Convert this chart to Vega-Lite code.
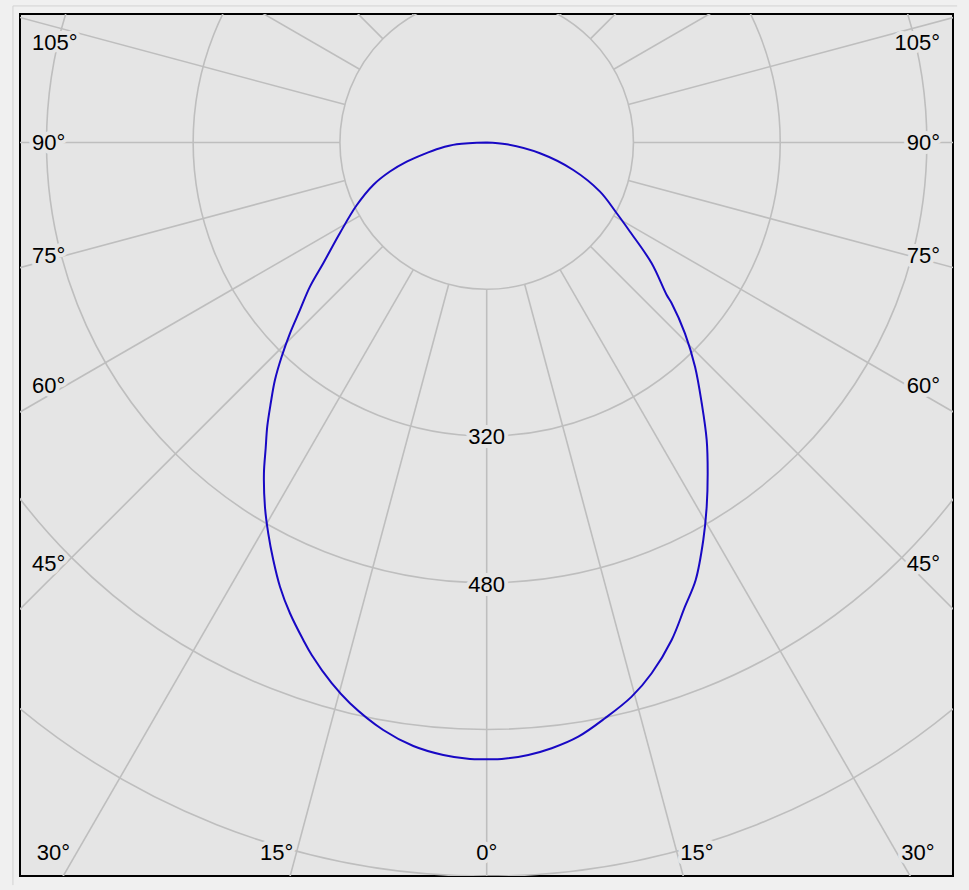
{
  "$schema": "https://vega.github.io/schema/vega-lite/v6.json",
  "width": 933,
  "height": 862,
  "autosize": {"type": "none"},
  "padding": {"left": 20, "top": 14, "right": 16, "bottom": 14},
  "background": "#f0f0f0",
  "config": {
    "view": {"fill": "#e5e5e5", "stroke": "#000000", "strokeWidth": 2},
    "axis": {"disable": true}
  },
  "datasets": {
    "spokes": [
      {"a": 0, "x1": 0, "y1": -160, "x2": 0, "y2": -1100},
      {"a": 15, "x1": -41.4, "y1": -154.5, "x2": -284.7, "y2": -1062.5},
      {"a": 15, "x1": 41.4, "y1": -154.5, "x2": 284.7, "y2": -1062.5},
      {"a": 30, "x1": -80, "y1": -138.6, "x2": -550, "y2": -952.6},
      {"a": 30, "x1": 80, "y1": -138.6, "x2": 550, "y2": -952.6},
      {"a": 45, "x1": -113.1, "y1": -113.1, "x2": -777.8, "y2": -777.8},
      {"a": 45, "x1": 113.1, "y1": -113.1, "x2": 777.8, "y2": -777.8},
      {"a": 60, "x1": -138.6, "y1": -80, "x2": -952.6, "y2": -550},
      {"a": 60, "x1": 138.6, "y1": -80, "x2": 952.6, "y2": -550},
      {"a": 75, "x1": -154.5, "y1": -41.4, "x2": -1062.5, "y2": -284.7},
      {"a": 75, "x1": 154.5, "y1": -41.4, "x2": 1062.5, "y2": -284.7},
      {"a": 90, "x1": -160, "y1": 0, "x2": -1100, "y2": 0},
      {"a": 90, "x1": 160, "y1": 0, "x2": 1100, "y2": 0},
      {"a": 105, "x1": -154.5, "y1": 41.4, "x2": -1062.5, "y2": 284.7},
      {"a": 105, "x1": 154.5, "y1": 41.4, "x2": 1062.5, "y2": 284.7},
      {"a": 120, "x1": -138.6, "y1": 80, "x2": -952.6, "y2": 550},
      {"a": 120, "x1": 138.6, "y1": 80, "x2": 952.6, "y2": 550},
      {"a": 135, "x1": -113.1, "y1": 113.1, "x2": -777.8, "y2": 777.8},
      {"a": 135, "x1": 113.1, "y1": 113.1, "x2": 777.8, "y2": 777.8},
      {"a": 150, "x1": -80, "y1": 138.6, "x2": -550, "y2": 952.6},
      {"a": 150, "x1": 80, "y1": 138.6, "x2": 550, "y2": 952.6},
      {"a": 165, "x1": -41.4, "y1": 154.5, "x2": -284.7, "y2": 1062.5},
      {"a": 165, "x1": 41.4, "y1": 154.5, "x2": 284.7, "y2": 1062.5},
      {"a": 180, "x1": 0, "y1": 160, "x2": 0, "y2": 1100}
    ],
    "rings": [
      {"r": 160}, {"r": 320}, {"r": 480}, {"r": 640}, {"r": 800}
    ],
    "panel": [
      {"x1": -516.6, "y1": 149.0, "x2": 513.0, "y2": 149.0},
      {"x1": -516.6, "y1": 149.0, "x2": -516.6, "y2": -809.7}
    ],
    "labels": [
      {"side": "L", "text": "105°", "x": -495.9, "y": 108.9},
      {"side": "L", "text": "90°", "x": -495.9, "y": 0},
      {"side": "L", "text": "75°", "x": -495.9, "y": -123.3},
      {"side": "L", "text": "60°", "x": -495.9, "y": -266.0},
      {"side": "L", "text": "45°", "x": -495.9, "y": -459.9},
      {"side": "R", "text": "105°", "x": 494.3, "y": 108.9},
      {"side": "R", "text": "90°", "x": 494.3, "y": 0},
      {"side": "R", "text": "75°", "x": 494.3, "y": -123.3},
      {"side": "R", "text": "60°", "x": 494.3, "y": -266.0},
      {"side": "R", "text": "45°", "x": 494.3, "y": -459.9},
      {"side": "C", "text": "30°", "x": -472.4, "y": -774.7},
      {"side": "C", "text": "15°", "x": -229.0, "y": -774.7},
      {"side": "C", "text": "0°", "x": 0, "y": -774.7},
      {"side": "C", "text": "15°", "x": 229.3, "y": -774.7},
      {"side": "C", "text": "30°", "x": 470.3, "y": -774.7},
      {"side": "C", "text": "320", "x": 0, "y": -321},
      {"side": "C", "text": "480", "x": 0, "y": -482}
    ],
    "curve": [
      {"i": 0, "x": 0, "y": 0},
      {"i": 1, "x": -32.7, "y": -1.9},
      {"i": 2, "x": -50.9, "y": -6.2},
      {"i": 3, "x": -69.1, "y": -12.8},
      {"i": 4, "x": -87.2, "y": -20.8},
      {"i": 5, "x": -105.5, "y": -31.6},
      {"i": 6, "x": -123.7, "y": -46.2},
      {"i": 7, "x": -141.8, "y": -68.4},
      {"i": 8, "x": -160.0, "y": -98.6},
      {"i": 9, "x": -178.2, "y": -131.6},
      {"i": 10, "x": -192.7, "y": -157.1},
      {"i": 11, "x": -203.6, "y": -182.5},
      {"i": 12, "x": -214.5, "y": -208.0},
      {"i": 13, "x": -223.6, "y": -233.5},
      {"i": 14, "x": -230.9, "y": -258.9},
      {"i": 15, "x": -235.5, "y": -284.3},
      {"i": 16, "x": -239.3, "y": -309.8},
      {"i": 17, "x": -241.0, "y": -333.4},
      {"i": 18, "x": -242.9, "y": -360.6},
      {"i": 19, "x": -241.8, "y": -397.1},
      {"i": 20, "x": -238.2, "y": -426.1},
      {"i": 21, "x": -232.7, "y": -455.2},
      {"i": 22, "x": -225.4, "y": -484.3},
      {"i": 23, "x": -214.5, "y": -513.3},
      {"i": 24, "x": -200.0, "y": -542.4},
      {"i": 25, "x": -190.8, "y": -558.8},
      {"i": 26, "x": -169.0, "y": -589.6},
      {"i": 27, "x": -149.1, "y": -611.4},
      {"i": 28, "x": -112.8, "y": -640.6},
      {"i": 29, "x": -80.0, "y": -658.0},
      {"i": 30, "x": -47.3, "y": -667.8},
      {"i": 31, "x": -18.2, "y": -672.2},
      {"i": 32, "x": 0, "y": -672.5},
      {"i": 33, "x": 16.4, "y": -672.2},
      {"i": 34, "x": 45.4, "y": -667.8},
      {"i": 35, "x": 70.9, "y": -660.5},
      {"i": 36, "x": 99.9, "y": -647.9},
      {"i": 37, "x": 129.0, "y": -627.8},
      {"i": 38, "x": 158.1, "y": -604.2},
      {"i": 39, "x": 179.9, "y": -578.7},
      {"i": 40, "x": 201.7, "y": -542.4},
      {"i": 41, "x": 216.2, "y": -506.1},
      {"i": 42, "x": 227.9, "y": -477.0},
      {"i": 43, "x": 236.2, "y": -433.4},
      {"i": 44, "x": 239.9, "y": -397.1},
      {"i": 45, "x": 241.0, "y": -360.6},
      {"i": 46, "x": 239.9, "y": -324.3},
      {"i": 47, "x": 234.5, "y": -284.3},
      {"i": 48, "x": 227.2, "y": -244.4},
      {"i": 49, "x": 216.2, "y": -208.0},
      {"i": 50, "x": 201.7, "y": -175.2},
      {"i": 51, "x": 196.3, "y": -166.2},
      {"i": 52, "x": 179.9, "y": -131.6},
      {"i": 53, "x": 156.3, "y": -97.2},
      {"i": 54, "x": 141.8, "y": -77.1},
      {"i": 55, "x": 123.6, "y": -53.5},
      {"i": 56, "x": 94.4, "y": -29.9},
      {"i": 57, "x": 58.1, "y": -11.7},
      {"i": 58, "x": 21.8, "y": -1.9},
      {"i": 59, "x": 0, "y": 0}
    ]
  },
  "layer": [
    {
      "data": {"name": "panel"},
      "mark": {"type": "rule", "clip": false, "stroke": "#d2d2d2", "strokeWidth": 1},
      "encoding": {
        "x": {"field": "x1", "type": "quantitative", "scale": {"domain": [-508.9, 508.5], "nice": false, "zero": false}, "axis": null},
        "y": {"field": "y1", "type": "quantitative", "scale": {"domain": [-799.8, 140.2], "nice": false, "zero": false}, "axis": null},
        "x2": {"field": "x2"},
        "y2": {"field": "y2"}
      }
    },
    {
      "data": {"name": "spokes"},
      "mark": {"type": "rule", "clip": true, "stroke": "#bebebe", "strokeWidth": 1.6},
      "encoding": {
        "x": {"field": "x1", "type": "quantitative", "scale": {"domain": [-508.9, 508.5], "nice": false, "zero": false}, "axis": null},
        "y": {"field": "y1", "type": "quantitative", "scale": {"domain": [-799.8, 140.2], "nice": false, "zero": false}, "axis": null},
        "x2": {"field": "x2"},
        "y2": {"field": "y2"}
      }
    },
    {
      "data": {"name": "rings"},
      "mark": {"type": "arc", "theta": 0, "theta2": 6.2832, "filled": false, "stroke": "#bebebe", "strokeWidth": 1.6, "clip": true},
      "encoding": {
        "x": {"datum": 0, "type": "quantitative", "scale": {"domain": [-508.9, 508.5], "nice": false, "zero": false}, "axis": null},
        "y": {"datum": 0, "type": "quantitative", "scale": {"domain": [-799.8, 140.2], "nice": false, "zero": false}, "axis": null},
        "radius": {"field": "r", "type": "quantitative", "stack": null, "scale": {"type": "linear", "domain": [0, 800], "range": [0, 733.6]}, "legend": null}
      }
    },
    {
      "data": {"name": "labels"},
      "transform": [{"filter": "datum.side === 'L'"}],
      "layer": [
        {"mark": {"type": "text", "align": "left", "baseline": "middle", "font": "Liberation Sans", "fontSize": 22, "fill": "#e5e5e5", "stroke": "#e5e5e5", "strokeWidth": 8, "strokeJoin": "round"}},
        {"mark": {"type": "text", "align": "left", "baseline": "middle", "font": "Liberation Sans", "fontSize": 22, "fill": "#000000"}}
      ],
      "encoding": {
        "x": {"field": "x", "type": "quantitative", "axis": null},
        "y": {"field": "y", "type": "quantitative", "axis": null},
        "text": {"field": "text"}
      }
    },
    {
      "data": {"name": "labels"},
      "transform": [{"filter": "datum.side === 'R'"}],
      "layer": [
        {"mark": {"type": "text", "align": "right", "baseline": "middle", "font": "Liberation Sans", "fontSize": 22, "fill": "#e5e5e5", "stroke": "#e5e5e5", "strokeWidth": 8, "strokeJoin": "round"}},
        {"mark": {"type": "text", "align": "right", "baseline": "middle", "font": "Liberation Sans", "fontSize": 22, "fill": "#000000"}}
      ],
      "encoding": {
        "x": {"field": "x", "type": "quantitative", "axis": null},
        "y": {"field": "y", "type": "quantitative", "axis": null},
        "text": {"field": "text"}
      }
    },
    {
      "data": {"name": "labels"},
      "transform": [{"filter": "datum.side === 'C'"}],
      "layer": [
        {"mark": {"type": "text", "align": "center", "baseline": "middle", "font": "Liberation Sans", "fontSize": 22, "fill": "#e5e5e5", "stroke": "#e5e5e5", "strokeWidth": 8, "strokeJoin": "round"}},
        {"mark": {"type": "text", "align": "center", "baseline": "middle", "font": "Liberation Sans", "fontSize": 22, "fill": "#000000"}}
      ],
      "encoding": {
        "x": {"field": "x", "type": "quantitative", "axis": null},
        "y": {"field": "y", "type": "quantitative", "axis": null},
        "text": {"field": "text"}
      }
    },
    {
      "data": {"name": "curve"},
      "mark": {"type": "line", "interpolate": "catmull-rom", "stroke": "#1808c4", "strokeWidth": 2},
      "encoding": {
        "x": {"field": "x", "type": "quantitative", "axis": null},
        "y": {"field": "y", "type": "quantitative", "axis": null},
        "order": {"field": "i", "type": "quantitative"}
      }
    }
  ]
}
